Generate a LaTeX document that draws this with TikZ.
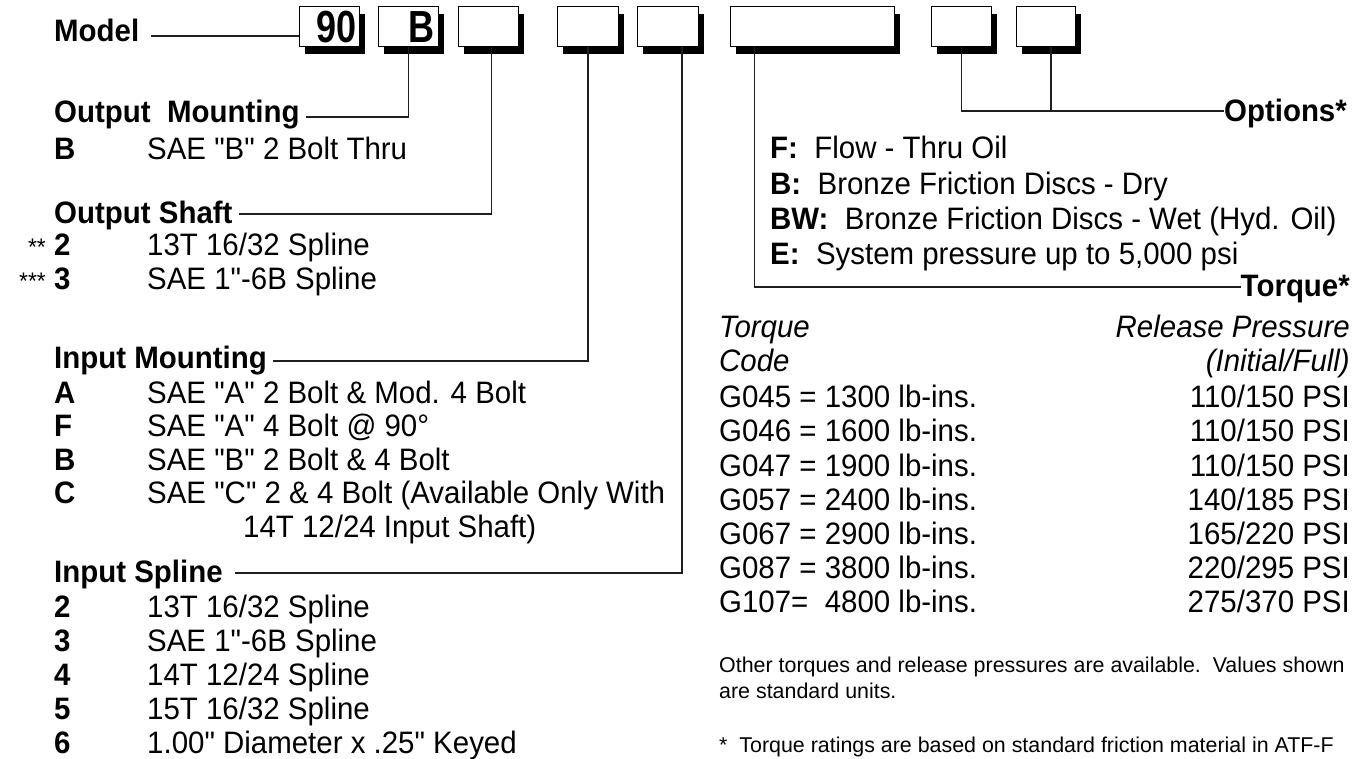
\documentclass[tikz,border=0pt]{standalone}
\usepackage{fontspec}
\setmainfont{Liberation Sans}[FakeStretch=0.95, Ligatures=TeXOff]
\newfontfamily\plainfont{Liberation Sans}[Ligatures=TeXOff]
\newfontfamily\boxfont{Liberation Sans}[FakeStretch=0.8]
\usetikzlibrary{shadows}
\begin{document}
\begin{tikzpicture}[x=1pt,y=-1pt,
  codebox/.style={draw=black, line width=1.1pt, fill=white, inner sep=0pt, anchor=north west,
     minimum height=40pt, text width=#1, align=right,
     drop shadow={shadow xshift=5pt, shadow yshift=-7pt, fill=black, opacity=1},
     font=\boxfont\fontsize{45}{45}\selectfont\bfseries},
  lead/.style={line width=1.8pt, draw=black!88},
  hd/.style={anchor=base west, inner sep=0pt, font=\fontsize{31}{31}\selectfont\bfseries},
  tx/.style={anchor=base west, inner sep=0pt, font=\fontsize{31}{31}\selectfont},
  txr/.style={anchor=base east, inner sep=0pt, font=\fontsize{31}{31}\selectfont},
  itl/.style={anchor=base west, inner sep=0pt, font=\fontsize{31}{31}\selectfont\itshape},
  itr/.style={anchor=base east, inner sep=0pt, font=\fontsize{31}{31}\selectfont\itshape},
  hdr/.style={anchor=base east, inner sep=0pt, font=\fontsize{31}{31}\selectfont\bfseries},
  stars/.style={anchor=base east, inner sep=0pt, font=\fontsize{24}{24}\selectfont},
  small/.style={anchor=base west, inner sep=0pt, font=\plainfont\fontsize{21.4}{21.4}\selectfont}]
\useasboundingbox (0,0) rectangle (1361,759);

% code boxes
\node[codebox=54pt, minimum width=60pt]  (b1) at (299,6) {90};
\node[codebox=52pt, minimum width=60pt]  (b2) at (378,6) {B};
\node[codebox=48pt, minimum width=60pt]  (b3) at (458,6) {};
\node[codebox=48pt, minimum width=61pt]  (b4) at (557,6) {};
\node[codebox=48pt, minimum width=61pt]  (b5) at (637,6) {};
\node[codebox=150pt, minimum width=164pt] (b6) at (730,6) {};
\node[codebox=48pt, minimum width=60pt]  (b7) at (931,6) {};
\node[codebox=48pt, minimum width=59pt]  (b8) at (1016,6) {};

% left column
\node[hd] (model) at (54,42) {Model};
\node[hd] (om) at (54,123) {Output~ Mounting};
\node[hd] (omB) at (54,160) {B};
\node[tx] (omBt) at (147,160) {SAE "B" 2 Bolt Thru};

\node[hd] (os) at (54,224) {Output Shaft};
\node[stars] (os2s) at (46,256) {**};
\node[hd] (os2) at (54,256) {2};
\node[tx] (os2t) at (147,256) {13T 16/32 Spline};
\node[stars] (os3s) at (46,290) {***};
\node[hd] (os3) at (54,290) {3};
\node[tx] (os3t) at (147,290) {SAE 1"-6B Spline};

\node[hd] (im) at (54,369) {Input Mounting};
\node[hd] (imA) at (54,403) {A};
\node[tx] (imAt) at (147,403) {SAE "A" 2 Bolt \& Mod. 4 Bolt};
\node[hd] (imF) at (54,436) {F};
\node[tx] (imFt) at (147,436) {SAE "A" 4 Bolt @ 90°};
\node[hd] (imB) at (54,470) {B};
\node[tx] (imBt) at (147,470) {SAE "B" 2 Bolt \& 4 Bolt};
\node[hd] (imC) at (54,503) {C};
\node[tx] (imCt) at (147,503) {SAE "C" 2 \& 4 Bolt (Available Only With};
\node[tx] (imCt2) at (243,537) {14T 12/24 Input Shaft)};

\node[hd] (is) at (54,582) {Input Spline};
\node[hd] (is2) at (54,617) {2};
\node[tx] (is2t) at (147,617) {13T 16/32 Spline};
\node[hd] (is3) at (54,651) {3};
\node[tx] (is3t) at (147,651) {SAE 1"-6B Spline};
\node[hd] (is4) at (54,685) {4};
\node[tx] (is4t) at (147,685) {14T 12/24 Spline};
\node[hd] (is5) at (54,719) {5};
\node[tx] (is5t) at (147,719) {15T 16/32 Spline};
\node[hd] (is6) at (54,753) {6};
\node[tx] (is6t) at (147,753) {1.00" Diameter x .25" Keyed};

% right column
\node[hdr] (opt) at (1347,122) {Options*};
\node[tx] (oF) at (770,159) {\textbf{F:}\ \ Flow - Thru Oil};
\node[tx] (oB) at (770,195) {\textbf{B:}\ \ Bronze Friction Discs - Dry};
\node[tx] (oBW) at (770,230) {\textbf{BW:}\ \ Bronze Friction Discs - Wet (Hyd. Oil)};
\node[tx] (oE) at (770,265) {\textbf{E:}\ \ System pressure up to 5,000 psi};
\node[hdr] (tq) at (1350,297) {Torque*};

\node[itl] (th1) at (719,338) {Torque};
\node[itl] (th2) at (719,372) {Code};
\node[itr] (rh1) at (1350,338) {Release Pressure};
\node[itr] (rh2) at (1350,372) {(Initial/Full)};

\node[tx] (t1) at (719,408) {G045 = 1300 lb-ins.};
\node[tx] (t2) at (719,442) {G046 = 1600 lb-ins.};
\node[tx] (t3) at (719,476) {G047 = 1900 lb-ins.};
\node[tx] (t4) at (719,510) {G057 = 2400 lb-ins.};
\node[tx] (t5) at (719,544) {G067 = 2900 lb-ins.};
\node[tx] (t6) at (719,578) {G087 = 3800 lb-ins.};
\node[tx] (t7) at (719,612) {G107=\ \ 4800 lb-ins.};
\node[txr] (p1) at (1350,408) {110/150 PSI};
\node[txr] (p2) at (1350,442) {110/150 PSI};
\node[txr] (p3) at (1350,476) {110/150 PSI};
\node[txr] (p4) at (1350,510) {140/185 PSI};
\node[txr] (p5) at (1350,544) {165/220 PSI};
\node[txr] (p6) at (1350,578) {220/295 PSI};
\node[txr] (p7) at (1350,612) {275/370 PSI};

\node[small] (n1) at (719,672) {Other torques and release pressures are available.\ \ Values shown};
\node[small] (n2) at (719,698) {are standard units.};
\node[small] (n3) at (719,752) {*\ \ Torque ratings are based on standard friction material in ATF-F};

% connectors
\draw[lead] ([xshift=12pt,yshift=6pt]model.base east) -- ([yshift=6pt]model.base east -| b1.west);
\draw[lead] (b2.south) |- ([xshift=6pt,yshift=6pt]om.base east);
\draw[lead] ([xshift=3pt]b3.south) |- ([xshift=6pt,yshift=10pt]os.base east);
\draw[lead] (b4.south) |- ([xshift=6pt,yshift=8pt]im.base east);
\draw[lead] ([xshift=14pt]b5.south) |- ([xshift=12pt,yshift=9pt]is.base east);
\draw[lead] ([xshift=-58pt]b6.south) |- ([yshift=10pt]tq.base west);
\coordinate (optl) at ([yshift=11pt]opt.base west);
\draw[lead] (b7.south) |- (optl);
\draw[lead] ([xshift=5pt]b8.south) -- ([xshift=5pt]b8.south |- optl);
\end{tikzpicture}
\end{document}
